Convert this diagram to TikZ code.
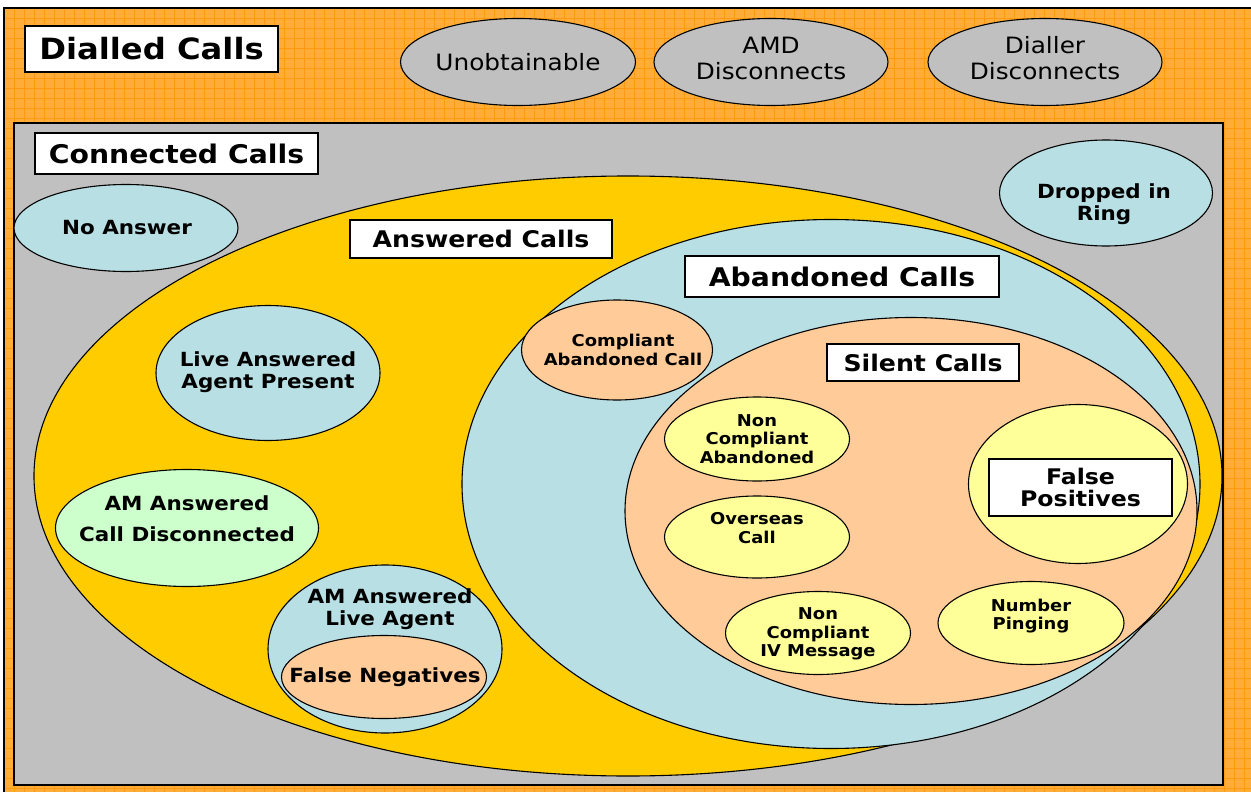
\documentclass[tikz,border=0pt]{standalone}
\usepackage{fontspec}
\setmainfont[FakeStretch=1.1]{DejaVu Sans}
\usetikzlibrary{shapes.geometric}
\definecolor{orangebg}{HTML}{FFAC38}
\definecolor{orangeln}{HTML}{FF9A10}
\definecolor{grayc}{HTML}{C0C0C0}
\definecolor{yellowc}{HTML}{FFCC00}
\definecolor{bluec}{HTML}{B8DFE3}
\definecolor{peachc}{HTML}{FFCC99}
\definecolor{paleyc}{HTML}{FFFF99}
\definecolor{greenc}{HTML}{CCFFCC}
\tikzset{
  ell/.style={ellipse, draw=black, line width=1.1pt, inner sep=0pt},
  lbl/.style={draw=black, line width=1.1pt, fill=white, inner sep=0pt, align=center, font=\bfseries},
  txt/.style={inner sep=0pt, align=center},
  bigf/.style={font=\fontsize{29.3}{33}\selectfont\bfseries},
  hdf/.style={font=\fontsize{25.7}{29}\selectfont\bfseries},
  subf/.style={font=\fontsize{22.9}{26}\selectfont\bfseries},
  midf/.style={font=\fontsize{19.5}{22}\selectfont\bfseries},
  fpf/.style={font=\fontsize{21.5}{22}\selectfont\bfseries},
  smf/.style={font=\fontsize{16.3}{18.5}\selectfont\bfseries},
  topf/.style={font=\fontsize{22.5}{26}\selectfont},
}
\begin{document}
\begin{tikzpicture}[x=1pt,y=-1pt]
\useasboundingbox (0,0) rectangle (1251,792);
\clip (0,0) rectangle (1251,792);
% outer dialled calls area
\fill[white] (0,0) rectangle (1251,792);
\fill[orangebg] (4,8) rectangle (1262,800);
\begin{scope}
\clip (4,8) rectangle (1262,800);
\draw[orangeln, line width=0.8pt, xstep=10pt, ystep=10pt, shift={(4pt,-8pt)}] (0,0) grid (1260,800);
\end{scope}
\draw[black, line width=1.1pt] (1262,800) -- (4,800) -- (4,8) -- (1262,8);
\node[lbl, bigf, minimum width=253pt, minimum height=46pt] (dialled) at (151.5,49) {Dialled Calls};
\node[ell, fill=grayc, minimum width=235pt, minimum height=87pt] (unob) at (518,62) {};
\node[txt, topf] (unobtxt) at (518,62) {Unobtainable};
\node[ell, fill=grayc, minimum width=234pt, minimum height=87pt] (amd) at (771,62) {};
\node[txt, topf] (amdtxt) at (771,58) {AMD\\Disconnects};
\node[ell, fill=grayc, minimum width=234pt, minimum height=87pt] (dialler) at (1045,62) {};
\node[txt, topf] (diallertxt) at (1045,58) {Dialler\\Disconnects};
% connected calls
\draw[black, line width=1.1pt, fill=grayc] (14,123) rectangle (1223,785);
\node[lbl, hdf, minimum width=283pt, minimum height=41pt] (connected) at (176.5,153.5) {Connected Calls};
\node[ell, fill=bluec, minimum width=224pt, minimum height=87pt] (noans) at (126,228) {};
\node[txt, midf] (noanstxt) at (127,228) {No Answer};
\node[ell, fill=bluec, minimum width=213pt, minimum height=106pt] (dropped) at (1106,193) {};
\node[txt, midf] (droppedtxt) at (1104,204) {Dropped in\\Ring};
% answered calls
\node[ell, fill=yellowc, minimum width=1188pt, minimum height=600pt] (answered) at (628,476) {};
\node[lbl, subf, minimum width=262pt, minimum height=38pt] (answeredlbl) at (481,239) {Answered Calls};
\node[ell, fill=bluec, minimum width=224pt, minimum height=135pt] (live) at (268,373) {};
\node[txt, midf] (livetxt) at (268,372) {Live Answered\\Agent Present};
\node[ell, fill=greenc, minimum width=263pt, minimum height=117pt] (amdisc) at (187,528) {};
\node[txt, midf] (amdisctxt) at (187,519) {AM Answered\\[9pt]Call Disconnected};
\node[ell, fill=bluec, minimum width=234pt, minimum height=168pt] (amlive) at (385,649) {};
\node[txt, midf] (amlivetxt) at (390,609) {AM Answered\\Live Agent};
\node[ell, fill=peachc, minimum width=205pt, minimum height=83pt] (falseneg) at (384,677) {};
\node[txt, midf] (falsenegtxt) at (385,677) {False Negatives};
% abandoned calls
\node[ell, fill=bluec, minimum width=738pt, minimum height=529pt] (abandoned) at (831,484) {};
\node[lbl, hdf, minimum width=314pt, minimum height=41pt] (abandonedlbl) at (842,276.5) {Abandoned Calls};
\node[ell, fill=peachc, minimum width=191pt, minimum height=100pt] (compliant) at (617,350) {};
\node[txt, smf] (complianttxt) at (623,350) {Compliant\\Abandoned Call};
% silent calls
\node[ell, fill=peachc, minimum width=572pt, minimum height=387pt] (silent) at (911,511) {};
\node[lbl, subf, minimum width=192pt, minimum height=37pt] (silentlbl) at (923,362.5) {Silent Calls};
\node[ell, fill=paleyc, minimum width=185pt, minimum height=84pt] (ncab) at (757,439) {};
\node[txt, smf] (ncabtxt) at (757,439) {Non\\Compliant\\Abandoned};
\node[ell, fill=paleyc, minimum width=185pt, minimum height=82pt] (overseas) at (757,537) {};
\node[txt, smf] (overseastxt) at (757,528) {Overseas\\Call};
\node[ell, fill=paleyc, minimum width=185pt, minimum height=83pt] (nciv) at (818,633) {};
\node[txt, smf] (ncivtxt) at (818,634) {Non\\Compliant\\IV Message};
\node[ell, fill=paleyc, minimum width=219pt, minimum height=159pt] (fpos) at (1078,484) {};
\node[lbl, fpf, minimum width=183pt, minimum height=57pt] (fposlbl) at (1080.5,487.5) {False\\Positives};
\node[ell, fill=paleyc, minimum width=186pt, minimum height=83pt] (ping) at (1031,623) {};
\node[txt, smf] (pingtxt) at (1031,616) {Number\\Pinging};
\end{tikzpicture}
\end{document}
